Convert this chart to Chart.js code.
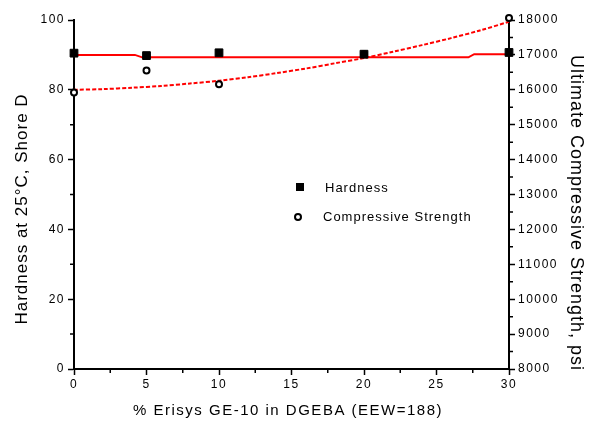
<!DOCTYPE html>
<html>
<head>
<meta charset="utf-8">
<script src="https://cdn.jsdelivr.net/npm/chart.js@4"></script>
<style>
  body { margin: 0; background: #fff; }
  canvas { display: block; }
</style>
</head>
<body>
<canvas id="my-chart" width="594" height="424"></canvas>
<script>
// measured points
const loading = [0, 5, 10, 20, 30];
const hardness = [90.5, 89.8, 90.6, 90.2, 90.7];
const strength = [15920, 16550, 16160, 17020, 18060];

// hardness fit (solid red)
const hardFitX = [0, 4.2, 4.7, 27.2, 27.6, 30];
const hardFitY = [90.0, 90.0, 89.3, 89.3, 90.2, 90.2];

// strength fit (dotted red), psi
const strFitX = [0, 2, 4, 6, 8, 10, 12, 14, 16, 18, 20, 22, 24, 26, 28, 30];
const strFitY = [16000, 16020, 16060, 16110, 16180, 16260, 16360, 16480, 16610, 16760, 16910, 17090, 17280, 17480, 17700, 17950];

const xTicks = [0, 5, 10, 15, 20, 25, 30];
const hardTicks = [0, 20, 40, 60, 80, 100];
const psiTicks = [8000, 9000, 10000, 11000, 12000, 13000, 14000, 15000, 16000, 17000, 18000];

const FONT = '"Liberation Sans", Arial, sans-serif';

function pairs(xs, ys) {
  return xs.map((x, i) => ({ x: x, y: ys[i] }));
}

// minor ticks, titles and legend
const extras = {
  id: 'extras',
  beforeDraw(chart) {
    chart.ctx.letterSpacing = '1.5px';
  },
  afterDraw(chart) {
    const ctx = chart.ctx;
    const area = chart.chartArea;
    const sx = chart.scales.x, sy = chart.scales.y, sy2 = chart.scales.y2;
    ctx.save();
    ctx.strokeStyle = '#000';
    ctx.lineWidth = 1.5;
    ctx.beginPath();
    for (let v = 2.5; v < 30; v += 5) {
      const px = sx.getPixelForValue(v);
      ctx.moveTo(px, area.bottom);
      ctx.lineTo(px, area.bottom + 4);
    }
    for (let v = 10; v < 100; v += 20) {
      const py = sy.getPixelForValue(v);
      ctx.moveTo(area.left, py);
      ctx.lineTo(area.left - 4, py);
    }
    for (let v = 8500; v < 18000; v += 1000) {
      const py = sy2.getPixelForValue(v);
      ctx.moveTo(area.right, py);
      ctx.lineTo(area.right + 4, py);
    }
    ctx.stroke();

    ctx.fillStyle = '#000';
    ctx.textAlign = 'center';
    ctx.textBaseline = 'middle';
    ctx.letterSpacing = '1px';

    ctx.save();
    ctx.font = '17px ' + FONT;
    ctx.translate(22, 209);
    ctx.rotate(-Math.PI / 2);
    ctx.fillText('Hardness at 25°C, Shore D', 0, 0);
    ctx.restore();

    ctx.save();
    ctx.font = '18px ' + FONT;
    ctx.translate(576, 213);
    ctx.rotate(Math.PI / 2);
    ctx.fillText('Ultimate Compressive Strength, psi', 0, 0);
    ctx.restore();

    ctx.font = '15px ' + FONT;
    ctx.letterSpacing = '1.5px';
    ctx.fillText('% Erisys GE-10 in DGEBA (EEW=188)', 288, 411);

    // legend
    ctx.fillRect(296, 183, 8, 8);
    ctx.beginPath();
    ctx.lineWidth = 2;
    ctx.arc(298, 217, 3, 0, Math.PI * 2);
    ctx.stroke();
    ctx.font = '13px ' + FONT;
    ctx.letterSpacing = '1px';
    ctx.textAlign = 'left';
    ctx.fillText('Hardness', 325, 188);
    ctx.fillText('Compressive Strength', 323, 217);
    ctx.restore();
  }
};

const tickFont = { family: FONT, size: 12 };

new Chart(document.getElementById('my-chart').getContext('2d'), {
  type: 'scatter',
  data: {
    datasets: [
      {
        label: 'Hardness',
        data: pairs(loading, hardness),
        yAxisID: 'y',
        pointStyle: 'rect',
        pointRadius: 5.5,
        backgroundColor: '#000',
        borderColor: '#000',
        borderWidth: 1,
        order: 0,
        clip: false
      },
      {
        label: 'Compressive Strength',
        data: pairs(loading, strength),
        yAxisID: 'y2',
        pointStyle: 'circle',
        pointRadius: 3,
        backgroundColor: '#fff',
        borderColor: '#000',
        borderWidth: 2,
        order: 0,
        clip: false
      },
      {
        label: 'Hardness fit',
        data: pairs(hardFitX, hardFitY),
        yAxisID: 'y',
        showLine: true,
        borderColor: '#ff0000',
        borderWidth: 2,
        pointRadius: 0,
        tension: 0,
        order: 1,
        clip: false
      },
      {
        label: 'Strength fit',
        data: pairs(strFitX, strFitY),
        yAxisID: 'y2',
        showLine: true,
        borderColor: '#ff0000',
        borderWidth: 2,
        borderDash: [4, 2],
        pointRadius: 0,
        tension: 0.3,
        order: 1,
        clip: false
      }
    ]
  },
  options: {
    responsive: false,
    animation: false,
    layout: { padding: { top: 20, left: 0, right: 0, bottom: 0 } },
    plugins: { legend: { display: false }, tooltip: { enabled: false } },
    scales: {
      x: {
        type: 'linear',
        position: 'bottom',
        min: 0,
        max: 30,
        afterBuildTicks: (s) => { s.ticks = xTicks.map((v) => ({ value: v })); },
        ticks: { color: '#000', font: tickFont, padding: 2, maxRotation: 0 },
        grid: { drawOnChartArea: false, tickLength: 6, tickColor: '#000', tickWidth: 1.5 },
        border: { color: '#000', width: 2 },
        afterFit: (s) => { s.height = 55; }
      },
      y: {
        type: 'linear',
        position: 'left',
        min: 0,
        max: 100,
        afterBuildTicks: (s) => { s.ticks = hardTicks.map((v) => ({ value: v })); },
        ticks: { color: '#000', font: tickFont, padding: 3 },
        grid: { drawOnChartArea: false, tickLength: 6, tickColor: '#000', tickWidth: 1.5 },
        border: { color: '#000', width: 2 },
        afterFit: (s) => { s.width = 74; }
      },
      y2: {
        type: 'linear',
        position: 'right',
        min: 8000,
        max: 18000,
        afterBuildTicks: (s) => { s.ticks = psiTicks.map((v) => ({ value: v })); },
        ticks: { color: '#000', font: tickFont, padding: 3, callback: (v) => String(v) },
        grid: { drawOnChartArea: false, tickLength: 6, tickColor: '#000', tickWidth: 1.5 },
        border: { color: '#000', width: 2 },
        afterFit: (s) => { s.width = 85; }
      }
    }
  },
  plugins: [extras]
});
</script>
</body>
</html>
